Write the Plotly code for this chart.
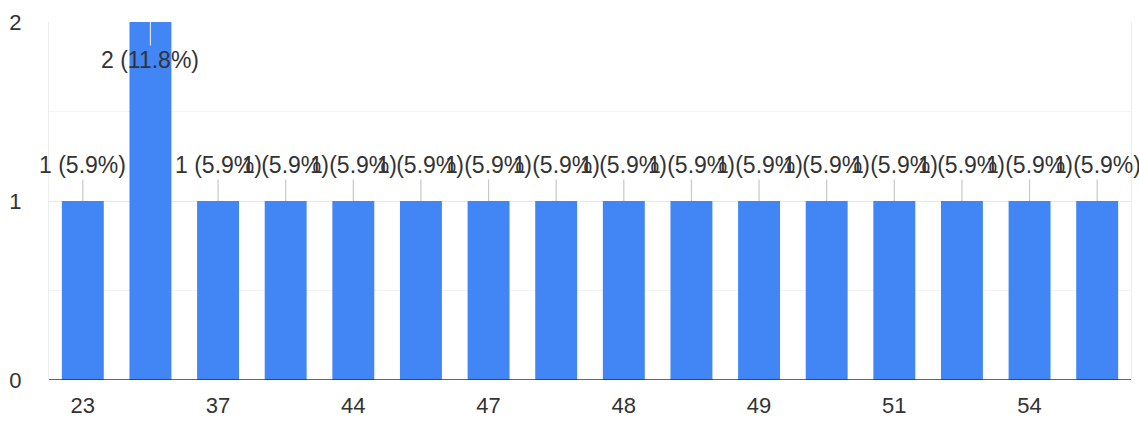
import plotly.graph_objects as go

# Responses per answer (16 answer groups), and the labels shown under every other bar
counts = [1, 2, 1, 1, 1, 1, 1, 1, 1, 1, 1, 1, 1, 1, 1, 1]
tick_labels = ["23", "37", "44", "47", "48", "49", "51", "54"]

positions = list(range(len(counts)))
total = sum(counts)

FONT = "Liberation Sans, Arial, sans-serif"
TEXT_COLOR = "#333333"
BAR_COLOR = "#4285f4"

fig = go.Figure(
    go.Bar(
        x=positions,
        y=counts,
        marker=dict(color=BAR_COLOR, line=dict(width=0)),
        hoverinfo="skip",
    )
)

# Value labels "n (p%)" with leader lines; when a bar reaches the top of the
# axis its label is placed inside, below the bar end.
ymax = 2
annotations = []
for pos, c in zip(positions, counts):
    pct = c / total * 100
    inside = c >= ymax
    annotations.append(
        dict(
            x=pos,
            y=c,
            xref="x",
            yref="y",
            text=f"{c} ({pct:.1f}%)",
            showarrow=True,
            arrowhead=0,
            arrowwidth=1.2,
            arrowcolor="#c8c8c8" if not inside else "#d8e4f8",
            standoff=0,
            ax=0,
            ay=38 if inside else -36,
            font=dict(family=FONT, size=23, color=TEXT_COLOR),
        )
    )

fig.update_layout(
    width=1139,
    height=422,
    margin=dict(l=49, r=8, t=22, b=42),
    paper_bgcolor="white",
    plot_bgcolor="white",
    showlegend=False,
    bargap=0.38,
    font=dict(family=FONT, size=22, color=TEXT_COLOR),
    annotations=annotations,
    xaxis=dict(
        range=[-0.5, len(counts) - 0.5],
        tickvals=positions[::2],
        ticktext=tick_labels,
        showgrid=False,
        zeroline=False,
        showline=False,
        ticks="",
        automargin=False,
        ticklabelstandoff=10,
        tickfont=dict(family=FONT, size=22, color=TEXT_COLOR),
    ),
    yaxis=dict(
        range=[0, ymax],
        tickvals=[0, 1, 2],
        showgrid=True,
        gridcolor="#e8e8e8",
        gridwidth=1,
        minor=dict(dtick=0.5, showgrid=True, gridcolor="#f4f4f4", gridwidth=1),
        zeroline=False,
        showline=True,
        mirror=True,
        linecolor="#ededed",
        linewidth=1,
        ticks="",
        automargin=False,
        ticklabelstandoff=22,
        tickfont=dict(family=FONT, size=22, color=TEXT_COLOR),
    ),
)

# Baseline under the bars
fig.add_shape(
    type="line",
    xref="paper",
    yref="y",
    x0=0,
    x1=1,
    y0=0,
    y1=0,
    line=dict(color="#333333", width=1.5),
    layer="above",
)

fig.write_html("out.html")
